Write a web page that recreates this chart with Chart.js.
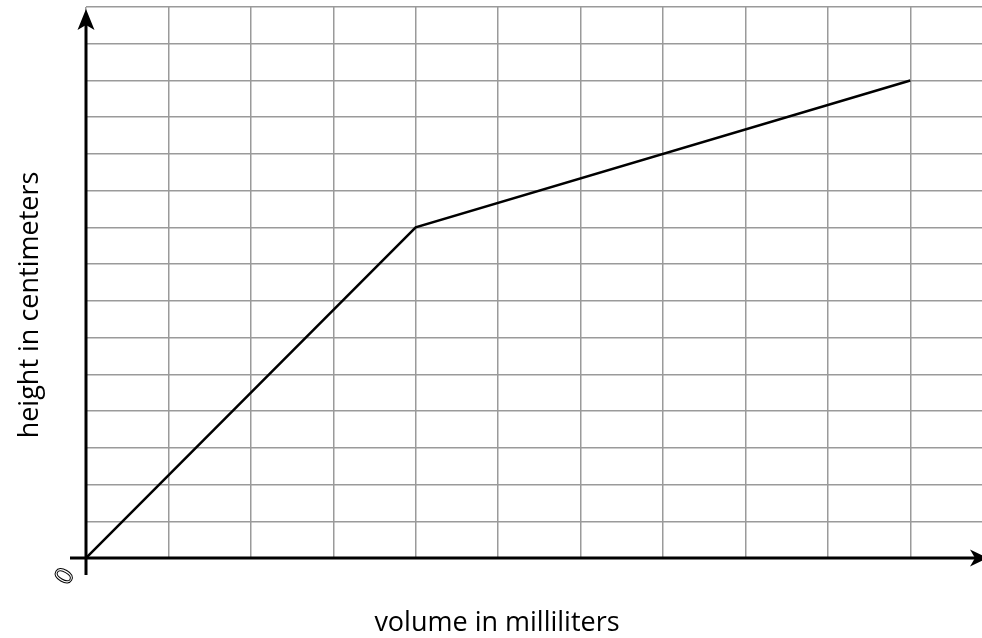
<!DOCTYPE html>
<html>
<head>
<meta charset="utf-8">
<script src="https://cdn.jsdelivr.net/npm/chart.js@4"></script>
<style>
  html, body { margin: 0; padding: 0; background: #fff; }
  #wrap { width: 982px; height: 638px; }
</style>
</head>
<body>
<div id="wrap"><canvas id="volumeChart" width="982" height="638"></canvas></div>
<script>
// data (grid units)
const volume = [0, 4, 10];
const height = [0, 9, 13];
const xTitle = "volume in milliliters";
const yTitle = "height in centimeters";
const originLabel = "0";

// axes, arrows and titles drawn on top of the chart
const axesPlugin = {
  id: "axesPlugin",
  afterDraw(chart) {
    const ctx = chart.ctx;
    const x = chart.scales.x;
    const y = chart.scales.y;
    const ox = x.getPixelForValue(0);
    const oy = y.getPixelForValue(0);
    ctx.save();
    ctx.strokeStyle = "#000";
    ctx.fillStyle = "#000";
    ctx.lineWidth = 3;
    ctx.beginPath();
    ctx.moveTo(70, oy);
    ctx.lineTo(975, oy);
    ctx.moveTo(ox, 575);
    ctx.lineTo(ox, 22);
    ctx.stroke();

    // y arrow
    ctx.beginPath();
    ctx.moveTo(ox, 9);
    ctx.lineTo(ox + 8.5, 30);
    ctx.lineTo(ox, 25);
    ctx.lineTo(ox - 8.5, 30);
    ctx.closePath();
    ctx.fill();
    // x arrow
    ctx.beginPath();
    ctx.moveTo(988, oy);
    ctx.lineTo(970, oy - 8.5);
    ctx.lineTo(975, oy);
    ctx.lineTo(970, oy + 8.5);
    ctx.closePath();
    ctx.fill();

    ctx.font = "27px 'Open Sans'";
    ctx.textAlign = "center";
    ctx.textBaseline = "alphabetic";
    ctx.fillText(xTitle, 497, 631);
    ctx.save();
    ctx.translate(38, 305);
    ctx.rotate(-Math.PI / 2);
    ctx.fillText(yTitle, 0, 0);
    ctx.restore();

    // origin label, drawn thin and tilted like the reference
    ctx.save();
    ctx.translate(66, 577);
    ctx.rotate(-Math.PI / 3);
    ctx.font = "24px 'DejaVu Sans'";
    ctx.textBaseline = "middle";
    ctx.lineWidth = 1;
    ctx.strokeText(originLabel, 0, 0);
    ctx.restore();
    ctx.restore();
  }
};

const ctx = document.getElementById("volumeChart");

new Chart(ctx, {
  type: "line",
  data: {
    datasets: [
      {
        data: volume.map((v, i) => ({ x: v, y: height[i] })),
        borderColor: "#000",
        borderWidth: 2.5,
        pointRadius: 0,
        tension: 0,
        fill: false
      }
    ]
  },
  options: {
    responsive: false,
    animation: false,
    layout: { padding: { left: 86, right: 0, top: 7, bottom: 80 } },
    plugins: { legend: { display: false }, tooltip: { enabled: false } },
    scales: {
      x: {
        type: "linear",
        min: 0,
        max: 10.87,
        afterBuildTicks: s => { s.ticks = s.ticks.filter(t => Number.isInteger(t.value)); },
        ticks: { display: false, stepSize: 1 },
        grid: { color: "#9a9a9a", lineWidth: 1.5, drawTicks: false },
        border: { display: false }
      },
      y: {
        type: "linear",
        min: 0,
        max: 15,
        ticks: { display: false, stepSize: 1 },
        grid: { color: "#9a9a9a", lineWidth: 1.5, drawTicks: false },
        border: { display: false }
      }
    }
  },
  plugins: [axesPlugin]
});
</script>
</body>
</html>
